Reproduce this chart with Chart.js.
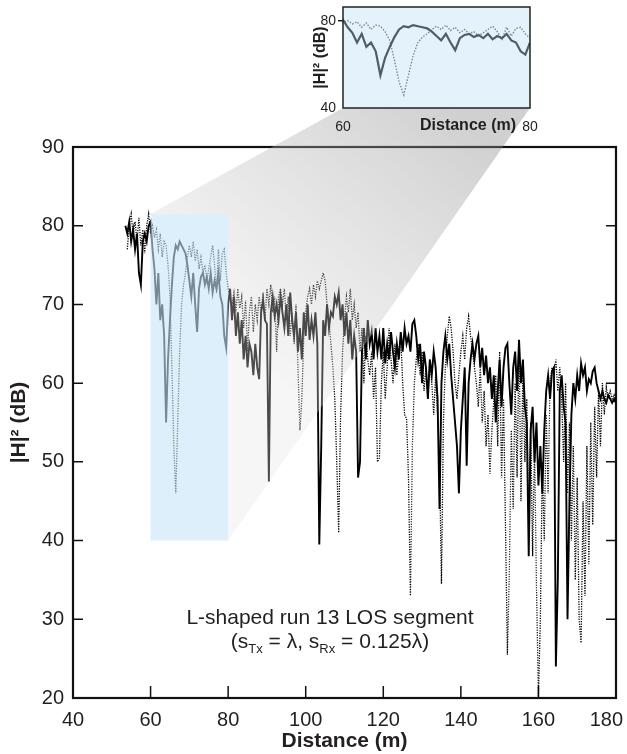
<!DOCTYPE html>
<html>
<head>
<meta charset="utf-8">
<script src="https://cdn.jsdelivr.net/npm/chart.js@4.4.0/dist/chart.umd.min.js"></script>
<style>
  html, body { margin: 0; padding: 0; background: #fff; }
  #wrap { position: relative; width: 627px; height: 754px; }
  #main, #inset { position: absolute; left: 0; top: 0; }
</style>
</head>
<body>
<div id="wrap">
  <canvas id="main" width="627" height="754"></canvas>
  <canvas id="inset" width="627" height="140"></canvas>
</div>
<script>
// distance grid (m) and |H|^2 (dB)
var step = 0.5;
var solidStart = 53.5;
var dottedStart = 54;

// solid trace
var solidDb = [
  80, 79, 80.5, 78, 79.5, 77, 79, 74, 72.5, 78,
  79, 78, 80, 80.5, 77, 74.5, 70, 74, 68, 70,
  66, 55, 63, 68, 72.5, 76, 77.5, 77, 78, 77.5,
  77, 76.5, 75, 73, 71, 74, 70, 66.5, 72, 73.5,
  74, 72.5, 73.5, 72, 74, 71.5, 73, 72, 74, 71,
  70, 66, 64.5, 70, 72, 68, 71, 66, 69, 65,
  68, 63, 66, 62, 65, 64, 61, 65, 62, 60.5,
  69, 70.5, 68, 67.5, 47.5, 69, 71, 68.5, 70, 68,
  71, 69, 67, 70, 66, 71.5, 68, 66, 69, 64,
  67, 63, 69, 66, 70, 65.5, 68, 66, 69, 65,
  39.5, 52, 68, 66, 70, 67, 69, 68.5, 71, 70,
  71.5, 68, 70, 66, 69, 65, 68, 63, 66, 64,
  48, 50, 64, 67, 63, 68, 65, 66.5, 63, 67,
  64, 66, 63, 67, 62.5, 65, 63, 66.5, 64, 62,
  65, 63, 66.5, 64, 67, 65, 66, 64, 67.5, 68,
  66, 63, 65, 60, 64, 62, 58, 63, 61, 64,
  62, 58, 44, 60, 64, 66, 63, 65, 61, 58,
  55, 52, 46, 54, 58, 62, 49.5, 60, 63, 65,
  63, 65, 66, 62, 64.5, 61, 63.5, 60, 62, 58,
  61, 55, 59, 63, 57, 62, 64.5, 65, 60, 56,
  62, 64, 59, 65.5, 60, 63, 57, 55, 38, 54,
  57, 50, 55, 47, 52, 46, 54, 59, 61, 58,
  61.5, 62, 24, 35, 59, 61, 57, 55, 30, 45,
  56, 60, 58, 61, 59, 62.5, 61, 62, 59, 60.5,
  60, 61.5, 62, 60, 59, 58, 59, 58, 57.5, 58.5,
  58, 57.5, 58, 57.5
];

// dotted trace
var dottedDb = [
  77, 80, 81.5, 79, 80.5, 78, 81, 77.5, 79.5, 76.5,
  80, 81.5, 79, 80, 78.5, 79.5, 77, 79, 76, 78,
  77.5, 75, 71, 62, 52, 46, 55, 64, 70, 72.5,
  74, 76, 77.5, 76, 78, 75.5, 77, 74.5, 76, 74,
  75, 73, 74.5, 76, 77.5, 75, 71.5, 77, 73, 76.5,
  77, 74, 72, 71, 70, 71.5, 69, 72, 69.5, 71,
  67, 70.5, 64, 69, 71, 66.5, 70, 68, 71, 69,
  71.5, 68, 72, 70, 72.5, 69, 71, 64, 71, 72,
  70, 72, 68, 71, 66, 69, 65, 70, 62, 54,
  58, 66, 69, 71, 72, 70, 72.5, 71, 73, 72,
  73, 74, 73, 70, 68, 65, 62, 58, 50, 41,
  56, 64, 68, 71, 69, 72, 68, 70, 67, 69,
  64, 67, 60, 66, 63, 61, 64, 58, 62, 50,
  50.5, 60, 64, 58, 62, 67, 63, 60, 65, 61,
  64, 66, 60, 56, 55.5, 48, 33, 52, 60, 63,
  65, 61, 64, 59, 62, 58, 63, 60, 56, 61,
  56, 50, 34.5, 55, 62, 66, 68.5, 67, 64, 60,
  58, 61, 64, 66, 63, 67, 68.5, 66, 64, 62,
  60, 57, 62, 55, 59, 52, 56, 48.5, 54, 58,
  61, 52, 64, 48, 58, 42, 25.5, 36, 54, 44,
  60, 48, 65.5, 45, 62, 50, 58, 42, 55, 38,
  52, 34, 20, 30, 50, 40, 56, 46, 60, 62,
  61, 63, 59, 62, 58, 50, 60, 46, 55, 40,
  52, 35, 48, 30, 27, 45, 33, 52, 37, 55,
  42, 57, 48, 59, 52, 60, 56, 59.5, 58, 59,
  58, 58.5, 57.5
];

var xTicks = [40, 60, 80, 100, 120, 140, 160, 180];
var yTicks = [20, 30, 40, 50, 60, 70, 80, 90];
var insetXTicks = [60, 80];
var insetYTicks = [40, 80];

// zoomed window shown in the inset
var zoomX = [60, 80];
var zoomY = [40, 81.5];

var noteLine1 = 'L-shaped run 13 LOS segment';
var noteLine2 = [['(s', false], ['Tx', true], [' = λ, s', false], ['Rx', true], [' = 0.125λ)', false]];

var fam = "'Liberation Sans', Arial, Helvetica, sans-serif";
var ink = '#231f20';

function toPoints(start, vals) {
  return vals.map(function (v, i) { return { x: start + i * step, y: v }; });
}
function fixTicks(list) {
  return function (s) { s.ticks = list.map(function (v) { return { value: v }; }); };
}

var insetDeco = {
  id: 'insetDeco',
  beforeDatasetsDraw: function (chart) {
    var a = chart.chartArea, ctx = chart.ctx;
    ctx.save();
    ctx.fillStyle = '#e4f2fc';
    ctx.fillRect(a.left, a.top, a.width, a.height);
    ctx.restore();
  },
  afterDatasetsDraw: function (chart) {
    var a = chart.chartArea, ctx = chart.ctx, y = chart.scales.y;
    ctx.save();
    ctx.strokeStyle = '#222';
    ctx.lineWidth = 1.5;
    ctx.strokeRect(a.left, a.top, a.width, a.height);
    var py = y.getPixelForValue(80);
    ctx.beginPath();
    ctx.moveTo(a.left - 5, py);
    ctx.lineTo(a.left, py);
    ctx.stroke();
    ctx.fillStyle = ink;
    ctx.font = 'bold 16px ' + fam;
    ctx.textAlign = 'center';
    ctx.textBaseline = 'middle';
    ctx.fillText('Distance (m)', 468, 126);
    ctx.restore();
  }
};

var insetChart = new Chart(document.getElementById('inset'), {
  type: 'line',
  data: {
    datasets: [
      { data: toPoints(solidStart, solidDb), borderColor: '#4f5d66', borderWidth: 2.2, pointRadius: 0 },
      { data: toPoints(dottedStart, dottedDb), borderColor: '#7a7a7a', borderWidth: 1.3, borderDash: [1.4, 1.6], pointRadius: 0 }
    ]
  },
  options: {
    responsive: false,
    animation: false,
    layout: { padding: { left: 300, right: 97, top: 7, bottom: 0 } },
    plugins: { legend: { display: false }, tooltip: { enabled: false } },
    scales: {
      x: {
        type: 'linear', min: 60, max: 80,
        afterBuildTicks: fixTicks(insetXTicks),
        afterFit: function (s) { s.height = 32; s.paddingLeft = 0; s.paddingRight = 0; },
        grid: { display: false, drawTicks: false },
        border: { display: false },
        ticks: { color: ink, font: { family: fam, size: 14 }, padding: 11, maxRotation: 0 }
      },
      y: {
        min: 40, max: 86.3,
        afterBuildTicks: fixTicks(insetYTicks),
        afterFit: function (s) { s.width = 43; s.paddingTop = 0; s.paddingBottom = 0; },
        grid: { display: false, drawTicks: false },
        border: { display: false },
        ticks: { color: ink, font: { family: fam, size: 14 }, padding: 7 },
        title: { display: true, text: '|H|² (dB)', color: ink, font: { family: fam, size: 16, weight: 'bold' }, padding: { top: 11, bottom: 0 } }
      }
    }
  },
  plugins: [insetDeco]
});

var frame = {
  id: 'frame',
  beforeDatasetsDraw: function (chart) {
    var ctx = chart.ctx, a = chart.chartArea, x = chart.scales.x, y = chart.scales.y;
    ctx.save();
    ctx.strokeStyle = '#111';
    ctx.lineWidth = 1.5;
    ctx.beginPath();
    yTicks.forEach(function (v) {
      var py = y.getPixelForValue(v);
      ctx.moveTo(a.left, py); ctx.lineTo(a.left + 10, py);
      ctx.moveTo(a.right, py); ctx.lineTo(a.right - 10, py);
    });
    xTicks.forEach(function (v) {
      var px = x.getPixelForValue(v);
      ctx.moveTo(px, a.bottom); ctx.lineTo(px, a.bottom - 12);
    });
    ctx.stroke();
    ctx.lineWidth = 2.2;
    ctx.strokeRect(a.left, a.top, a.width, a.height);
    // x tick labels, last one kept inside the page
    ctx.fillStyle = ink;
    ctx.font = '20px ' + fam;
    ctx.textAlign = 'center';
    ctx.textBaseline = 'middle';
    xTicks.forEach(function (v) {
      var s = String(v), w = ctx.measureText(s).width;
      var px = Math.min(x.getPixelForValue(v), chart.width - w / 2 - 4);
      ctx.fillText(s, px, 720);
    });
    ctx.restore();
  }
};

// grey projection wedge and blue window drawn over the traces
var zoomShade = {
  id: 'zoomShade',
  afterDatasetsDraw: function (chart) {
    var ctx = chart.ctx, x = chart.scales.x, y = chart.scales.y;
    var L = x.getPixelForValue(zoomX[0]), R = x.getPixelForValue(zoomX[1]);
    var T = y.getPixelForValue(zoomY[1]), B = y.getPixelForValue(zoomY[0]);
    var ia = insetChart.chartArea;
    ctx.save();
    var g = ctx.createLinearGradient(L + 40, B - 120, ia.left + ia.width * 0.6, ia.bottom);
    g.addColorStop(0.2, 'rgba(228,228,228,0.33)');
    g.addColorStop(1, 'rgba(138,138,138,0.4)');
    ctx.fillStyle = g;
    ctx.beginPath();
    ctx.moveTo(L, T);
    ctx.lineTo(ia.left, ia.bottom);
    ctx.lineTo(ia.right, ia.bottom);
    ctx.lineTo(R, B);
    ctx.lineTo(R, T);
    ctx.closePath();
    ctx.fill();
    ctx.fillStyle = 'rgba(200,228,250,0.6)';
    ctx.fillRect(L, T, R - L, B - T);
    ctx.restore();
  }
};

var note = {
  id: 'note',
  afterDraw: function (chart) {
    var ctx = chart.ctx, cx = 330;
    ctx.save();
    ctx.fillStyle = ink;
    ctx.textBaseline = 'middle';
    ctx.font = '21px ' + fam;
    ctx.textAlign = 'center';
    ctx.fillText(noteLine1, cx, 618);
    ctx.textAlign = 'left';
    var big = '21px ' + fam, small = '13px ' + fam, w = 0;
    noteLine2.forEach(function (p) { ctx.font = p[1] ? small : big; w += ctx.measureText(p[0]).width; });
    var px = cx - w / 2;
    noteLine2.forEach(function (p) {
      ctx.font = p[1] ? small : big;
      ctx.fillText(p[0], px, p[1] ? 649 : 642);
      px += ctx.measureText(p[0]).width;
    });
    ctx.restore();
  }
};

var mainChart = new Chart(document.getElementById('main'), {
  type: 'line',
  data: {
    datasets: [
      { data: toPoints(solidStart, solidDb), borderColor: '#000', borderWidth: 1.9, pointRadius: 0 },
      { data: toPoints(dottedStart, dottedDb), borderColor: '#000', borderWidth: 1.3, borderDash: [1.2, 1.3], pointRadius: 0 }
    ]
  },
  options: {
    responsive: false,
    animation: false,
    layout: { padding: { left: 0, right: 11, top: 147, bottom: 0 } },
    plugins: { legend: { display: false }, tooltip: { enabled: false } },
    scales: {
      x: {
        type: 'linear', min: 40, max: 180,
        afterBuildTicks: fixTicks(xTicks),
        afterFit: function (s) { s.height = 56; s.paddingLeft = 0; s.paddingRight = 0; },
        grid: { display: false, drawTicks: false },
        border: { display: false },
        ticks: { display: false },
        title: { display: true, text: 'Distance (m)', color: ink, font: { family: fam, size: 21, weight: 'bold' }, padding: 0 }
      },
      y: {
        min: 20, max: 90,
        afterBuildTicks: fixTicks(yTicks),
        afterFit: function (s) { s.width = 73; s.paddingTop = 0; s.paddingBottom = 0; },
        grid: { display: false, drawTicks: false },
        border: { display: false },
        ticks: { color: ink, font: { family: fam, size: 20 }, padding: 9 },
        title: { display: true, text: '|H|² (dB)', color: ink, font: { family: fam, size: 21, weight: 'bold' }, padding: { top: 7, bottom: 0 } }
      }
    }
  },
  plugins: [frame, zoomShade, note]
});
</script>
</body>
</html>
